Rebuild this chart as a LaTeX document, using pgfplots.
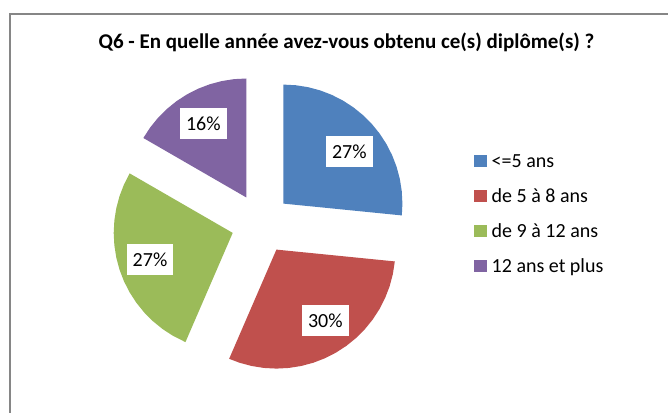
\documentclass[border=0pt]{standalone}
\usepackage{pgfplots}
\pgfplotsset{compat=1.18}
\usepackage{fontspec}
\setmainfont{Carlito}
\definecolor{cBlue}{RGB}{79,129,189}
\definecolor{cRed}{RGB}{192,80,77}
\definecolor{cGreen}{RGB}{155,187,89}
\definecolor{cPurple}{RGB}{128,100,162}
\definecolor{frame}{RGB}{134,134,134}
\begin{document}
% Shares: <=5 ans 26.6%, de 5 a 8 ans 29.9%, de 9 a 12 ans 26.8%, 12 ans et plus 16.7%
% (angles in degrees, clockwise from 90)
\begin{tikzpicture}
\useasboundingbox (0pt,0pt) rectangle (668pt,412pt);
\fill[white] (0pt,0pt) rectangle (668pt,412pt);
\draw[frame, line width=1.2pt] (10pt,-20pt) -- (10pt,398pt) -- (700pt,398pt);
\begin{axis}[
  x=1pt, y=1pt, xmin=0, xmax=668, ymin=0, ymax=412,
  enlargelimits=false, scale only axis, hide axis, clip=false,
  at={(0pt,0pt)}, anchor=south west,
  legend image code/.code={\fill[#1] (0pt,0pt) rectangle (12.5pt,12.5pt);},
  legend style={at={(axis cs:474,258.7)}, anchor=north west, draw=none, fill=none,
    inner sep=0pt, row sep=17pt, column sep=5pt,
    font=\fontsize{20}{24}\selectfont,
    nodes={inner sep=0pt, text height=14pt, text depth=4pt, anchor=base west}},
  legend cell align=left,
]
\addplot[fill=cBlue, draw=none, data cs=polar, xshift=283.4pt, yshift=208.4pt, forget plot] coordinates {
(0,0) (90,119) (84,119) (78,119) (72,119) (66,119) (60,119) (54,119) (48,119) (42,119) (36,119) (30,119) (24,119) (18,119) (12,119) (6,119) (0,119) (-5.7,119) (0,0)};
\addplot[fill=cRed, draw=none, data cs=polar, xshift=276.4pt, yshift=162.4pt, forget plot] coordinates {
(0,0) (-5.7,119) (-12,119) (-18,119) (-24,119) (-30,119) (-36,119) (-42,119) (-48,119) (-54,119) (-60,119) (-66,119) (-72,119) (-78,119) (-84,119) (-90,119) (-96,119) (-102,119) (-108,119) (-113.4,119) (0,0)};
\addplot[fill=cGreen, draw=none, data cs=polar, xshift=232.7pt, yshift=179.1pt, forget plot] coordinates {
(0,0) (-113.4,119) (-120,119) (-126,119) (-132,119) (-138,119) (-144,119) (-150,119) (-156,119) (-162,119) (-168,119) (-174,119) (-180,119) (-186,119) (-192,119) (-198,119) (-204,119) (-210,119) (0,0)};
\addplot[fill=cPurple, draw=none, data cs=polar, xshift=246.4pt, yshift=214.5pt, forget plot] coordinates {
(0,0) (-210,119) (-216,119) (-222,119) (-228,119) (-234,119) (-240,119) (-246,119) (-252,119) (-258,119) (-264,119) (-270,119) (0,0)};
\addlegendimage{fill=cBlue, draw=none}
\addlegendentry{<=5 ans}
\addlegendimage{fill=cRed, draw=none}
\addlegendentry{de 5 à 8 ans}
\addlegendimage{fill=cGreen, draw=none}
\addlegendentry{de 9 à 12 ans}
\addlegendimage{fill=cPurple, draw=none}
\addlegendentry{12 ans et plus}
\tikzset{lab/.style={fill=white, inner sep=0pt, minimum width=46.7pt, minimum height=31pt, font=\fontsize{20}{24}\selectfont}}
\node[lab] at (axis cs:349.3,260.3) {27\%};
\node[lab] at (axis cs:325.3,91) {30\%};
\node[lab] at (axis cs:150,152.7) {27\%};
\node[lab] at (axis cs:203.3,288.7) {16\%};
\node[anchor=base, font=\fontsize{21}{25}\selectfont\bfseries] at (axis cs:346.5,363) {Q6 - En quelle année avez-vous obtenu ce(s) diplôme(s) ?};
\end{axis}
\end{tikzpicture}
\end{document}
